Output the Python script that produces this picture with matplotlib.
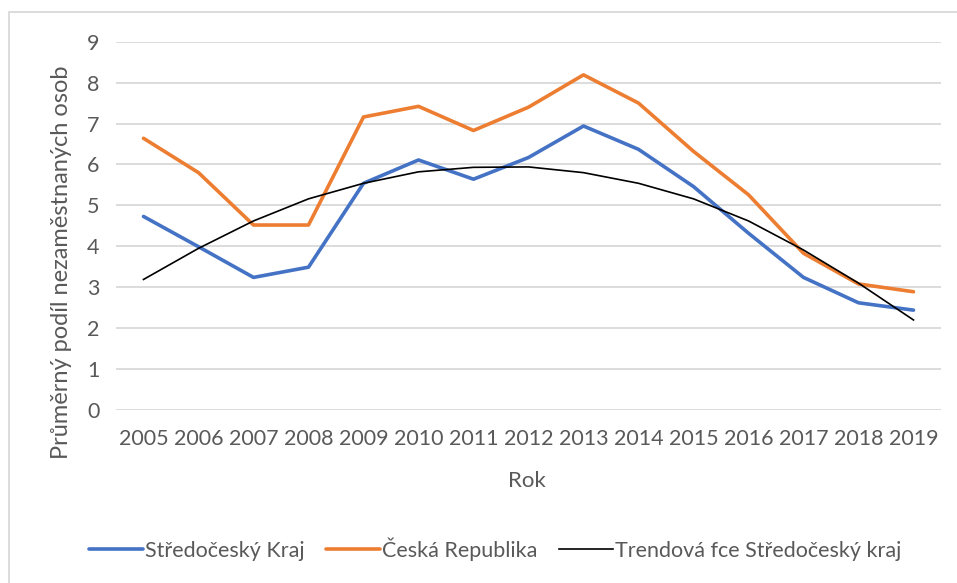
import matplotlib.pyplot as plt
from matplotlib.patches import Rectangle

years = list(range(2005, 2020))
stredocesky = [4.73, 3.99, 3.24, 3.49, 5.54, 6.11, 5.64, 6.17, 6.94, 6.37, 5.46, 4.32, 3.24, 2.62, 2.44]
cr = [6.64, 5.80, 4.52, 4.52, 7.16, 7.42, 6.83, 7.40, 8.19, 7.50, 6.32, 5.26, 3.83, 3.08, 2.89]
trend = [3.19, 3.95, 4.62, 5.16, 5.54, 5.82, 5.93, 5.94, 5.80, 5.54, 5.16, 4.62, 3.91, 3.10, 2.20]

plt.rcParams['font.family'] = ['Lato', 'DejaVu Sans']
text_col = '#595959'

fig = plt.figure(figsize=(9.57, 5.83), dpi=100)
W, H = 957, 583
ax = fig.add_axes([116 / W, 1 - 410 / H, (941 - 116) / W, (410 - 41.7) / H])

ax.plot(years, stredocesky, color='#4472C4', lw=2.6, solid_capstyle='round', label='Středočeský Kraj')
ax.plot(years, cr, color='#ED7D31', lw=2.6, solid_capstyle='round', label='Česká Republika')
ax.plot(years, trend, color='black', lw=1.2, label='Trendová fce Středočeský kraj')

ax.set_xlim(2004.5, 2019.5)
ax.set_ylim(0, 9)
ax.set_yticks(range(0, 10))
ax.set_xticks(years)
ax.grid(axis='y', color='#D9D9D9', lw=1.3)
ax.set_axisbelow(True)
for s in ax.spines.values():
    s.set_visible(False)
ax.tick_params(length=0, labelsize=15.5, colors=text_col)
ax.tick_params(axis='y', pad=12)
ax.tick_params(axis='x', pad=14)

fig.text(62 / W, 1 - 262 / H, 'Průměrný podíl nezaměstnaných osob', rotation=90,
         ha='center', va='center', fontsize=17, color=text_col)
fig.text(527 / W, 1 - 481 / H, 'Rok', ha='center', va='center', fontsize=16, color=text_col)

leg = fig.legend(loc='center', bbox_to_anchor=(495 / W, 1 - 549 / H), ncol=3, frameon=False,
                 fontsize=15.5, handlelength=2.5, handletextpad=0.1, columnspacing=1.0)
for t in leg.get_texts():
    t.set_color(text_col)

fig.patches.append(Rectangle((9 / W, -0.05), 1.0, 1 - 12 / H + 0.05, transform=fig.transFigure,
                             fill=False, edgecolor='#D9D9D9', lw=1.3))

fig.savefig('out.png', dpi=100)
